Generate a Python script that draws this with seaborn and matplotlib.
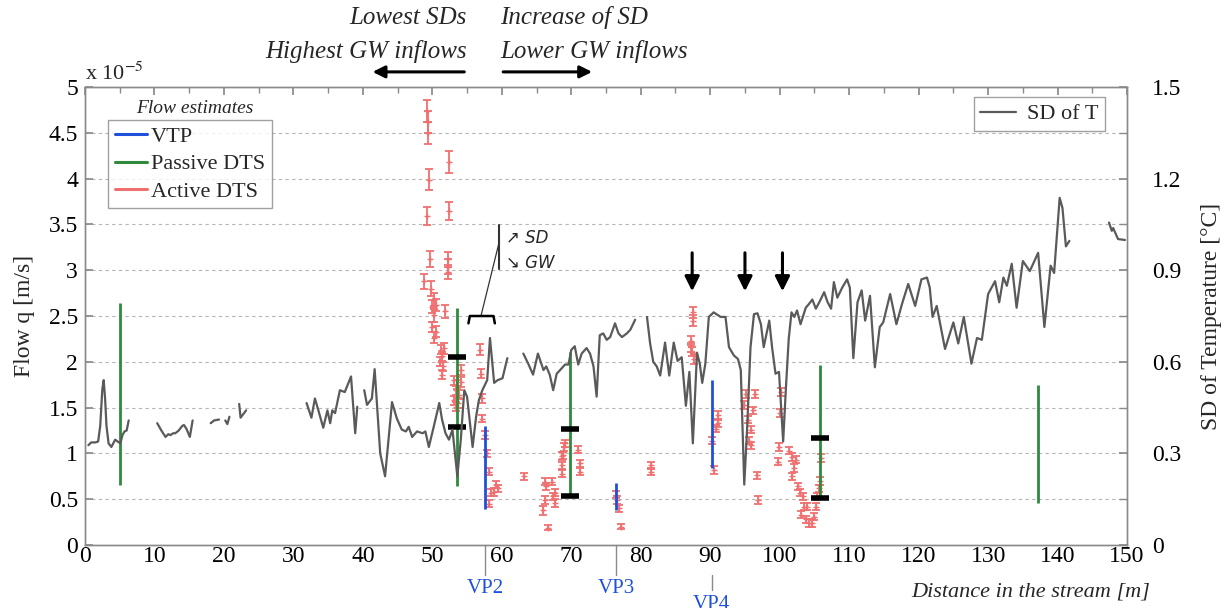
import numpy as np
import pandas as pd
import matplotlib
matplotlib.use("Agg")
import matplotlib.pyplot as plt
import matplotlib.transforms as mtransforms
from matplotlib.lines import Line2D
import seaborn as sns

# ---------------- data ----------------
# SD of temperature (deg C), separate measured stretches (gaps between them)
sd_seg_x = [
    [0.5, 0.9, 1.5, 1.9, 2.2, 2.5, 2.7, 2.9, 3.1, 3.4, 3.8, 4.35, 4.7, 5.1, 5.4, 5.7, 6.0, 6.3],
    [10.4, 11.0, 11.6, 12.0, 12.3, 12.7, 13.0, 13.5, 14.0, 14.25, 14.6, 15.1, 15.5],
    [18.1, 18.6, 19.3],
    [20.2, 20.5, 20.8],
    [22.2, 22.4, 22.8, 23.2],
    [31.9, 32.6, 33.1, 33.6, 34.3, 34.9, 35.3, 35.6, 36.0, 36.7, 37.4, 38.3, 38.9, 39.2],
    [40.2, 40.6, 41.3, 41.7, 42.5, 43.2, 44.2, 44.9, 45.6, 46.2, 46.6, 47.1, 47.8, 48.6, 49.0,
     49.5, 50.2, 51.0, 51.4, 51.9, 52.4, 52.9, 53.6, 54.1, 54.6, 55.0, 55.8, 56.3, 56.7, 57.2,
     57.9, 58.3, 58.9, 59.4, 60.1, 60.8],
    [63.1, 63.8, 64.5, 65.2, 66.0, 66.4, 66.9, 67.4, 67.9, 68.4, 69.1, 69.6, 70.0, 70.5, 71.0,
     71.5, 72.2, 72.7, 73.2, 73.65, 74.1, 74.6, 75.1, 75.6, 76.3, 76.8, 77.3, 78.0, 78.5, 79.2],
    [80.9, 81.35, 81.8, 82.3, 82.8, 83.5, 84.1, 84.75, 85.3, 85.9, 86.5, 87.0, 87.5, 88.1, 88.5,
     88.85, 89.3, 89.8, 90.5, 91.5, 92.2, 92.7, 93.4, 94.0, 94.4, 94.9, 95.3, 95.8, 96.3, 96.8,
     97.3, 97.7, 98.5, 98.9, 99.4, 99.9, 100.5, 100.9, 101.3, 101.7, 102.1, 102.5, 103.0, 103.75,
     104.2, 104.7, 105.2, 105.7, 106.4, 106.9, 107.4, 107.8, 108.3, 109.0, 109.7, 110.1, 110.6,
     111.2, 111.8, 112.3, 113.0, 113.7, 114.4, 114.9, 115.9, 116.8, 117.6, 118.5, 119.5, 120.4,
     121.2, 121.6, 122.0, 122.6, 123.8, 125.0, 125.7, 126.5, 127.6, 128.4, 129.1, 130.0, 131.0,
     131.6, 132.2, 132.7, 133.4, 134.1, 135.0, 136.0, 137.2, 138.1, 139.0, 139.5, 140.3, 140.7,
     141.2, 141.7],
    [147.4, 147.8, 148.0, 148.7, 149.7],
]
sd_seg_val = [
    [0.327, 0.336, 0.336, 0.339, 0.39, 0.51, 0.54, 0.48, 0.39, 0.333, 0.321, 0.345, 0.339, 0.333,
     0.36, 0.372, 0.375, 0.408],
    [0.399, 0.375, 0.354, 0.363, 0.36, 0.366, 0.366, 0.375, 0.39, 0.393, 0.381, 0.354, 0.408],
    [0.399, 0.408, 0.411],
    [0.408, 0.396, 0.42],
    [0.462, 0.417, 0.429, 0.441],
    [0.465, 0.417, 0.48, 0.441, 0.384, 0.441, 0.399, 0.441, 0.432, 0.507, 0.501, 0.552, 0.366, 0.453],
    [0.507, 0.459, 0.48, 0.576, 0.30, 0.225, 0.468, 0.414, 0.378, 0.372, 0.387, 0.354, 0.372, 0.366,
     0.372, 0.321, 0.387, 0.465, 0.411, 0.366, 0.345, 0.378, 0.225, 0.345, 0.507, 0.486, 0.321, 0.42,
     0.474, 0.507, 0.54, 0.678, 0.531, 0.54, 0.546, 0.612],
    [0.627, 0.594, 0.558, 0.627, 0.573, 0.585, 0.558, 0.507, 0.561, 0.573, 0.591, 0.591, 0.639, 0.651,
     0.591, 0.627, 0.645, 0.627, 0.585, 0.486, 0.687, 0.693, 0.672, 0.681, 0.726, 0.693, 0.681, 0.693,
     0.705, 0.738],
    [0.747, 0.660, 0.600, 0.585, 0.555, 0.663, 0.555, 0.663, 0.603, 0.615, 0.456, 0.567, 0.333, 0.630,
     0.594, 0.531, 0.594, 0.747, 0.762, 0.747, 0.747, 0.648, 0.621, 0.609, 0.573, 0.198, 0.375, 0.648,
     0.756, 0.759, 0.723, 0.648, 0.735, 0.648, 0.561, 0.567, 0.339, 0.516, 0.675, 0.762, 0.747, 0.768,
     0.723, 0.777, 0.789, 0.804, 0.774, 0.795, 0.828, 0.795, 0.774, 0.861, 0.810, 0.843, 0.870, 0.843,
     0.612, 0.795, 0.834, 0.735, 0.816, 0.582, 0.714, 0.729, 0.822, 0.723, 0.789, 0.855, 0.783, 0.870,
     0.876, 0.843, 0.747, 0.783, 0.642, 0.729, 0.660, 0.747, 0.594, 0.678, 0.672, 0.822, 0.864, 0.795,
     0.876, 0.849, 0.921, 0.777, 0.930, 0.897, 0.957, 0.714, 0.915, 0.891, 1.137, 1.104, 0.978, 0.996],
    [1.056, 1.029, 1.038, 1.002, 0.999],
]

# Active DTS flow estimates (x 1e-5 m/s) with error half-widths
dts_x = [49.3, 49.4, 49.4, 52.4, 49.5, 49.2, 52.4, 49.7, 52.2, 52.3, 52.2, 48.8, 49.8, 50.2, 50.5,
         51.8, 50.0, 50.2, 50.0, 50.5, 50.2, 51.7, 51.2, 51.4, 51.1, 51.5, 51.4, 54.1, 53.1, 53.6,
         54.1, 53.4, 53.8, 53.1, 53.75, 53.4, 56.8, 57.0, 57.1, 57.2, 57.6, 57.8, 58.1, 59.1, 59.4,
         58.9, 58.4, 58.2, 63.2, 66.2, 67.2, 66.4, 67.6, 67.4, 66.2, 67.6, 65.95, 66.7, 68.6, 68.7,
         68.6, 68.8, 69.05, 69.0, 70.9, 71.2, 71.2, 76.4, 76.6, 76.9, 77.1, 81.5, 81.5,
         87.5, 87.5, 87.3, 87.2, 87.4, 87.6, 91.1, 91.1, 90.9, 90.3, 90.5, 95.1, 96.5, 94.9, 96.2,
         95.4, 95.9, 95.6, 95.8, 96.8, 96.9, 100.2, 100.1, 99.9, 99.7, 101.3, 101.8, 102.3, 102.0,
         101.8, 102.6, 102.9, 103.3, 103.5, 104.0, 103.1, 103.75, 104.2, 104.7, 104.95, 105.2,
         105.4, 105.7, 105.8, 105.9]
dts_q = [4.74, 4.62, 4.50, 4.18, 3.99, 3.59, 3.65, 3.12, 3.12, 3.04, 2.98, 2.88, 2.80, 2.68, 2.62,
         2.55, 2.60, 2.51, 2.38, 2.33, 2.26, 2.15, 2.13, 2.06, 2.00, 1.95, 1.86, 1.91, 1.80, 1.75,
         1.78, 1.69, 1.64, 1.58, 1.55, 1.51, 2.13, 1.87, 1.60, 1.38, 1.20, 1.00, 0.80, 0.66, 0.62,
         0.58, 0.57, 0.45, 0.75, 0.69, 0.69, 0.64, 0.57, 0.53, 0.49, 0.46, 0.38, 0.19, 0.78, 0.87,
         0.97, 0.98, 1.11, 1.07, 1.04, 0.89, 0.80, 0.55, 0.49, 0.40, 0.20, 0.87, 0.80,
         2.54, 2.45, 2.23, 2.16, 2.11, 2.03, 1.42, 1.33, 1.27, 1.14, 0.82, 1.65, 1.65, 1.53, 1.47,
         1.37, 1.26, 1.14, 1.09, 0.76, 0.49, 1.67, 1.44, 1.07, 0.91, 1.03, 0.96, 0.93, 0.84,
         0.75, 0.64, 0.57, 0.53, 0.42, 0.42, 0.33, 0.28, 0.24, 0.24, 0.31, 0.42,
         0.53, 0.62, 0.70, 0.95]
dts_err = [0.12, 0.12, 0.12, 0.12, 0.11, 0.10, 0.10, 0.09, 0.08, 0.08, 0.08, 0.08, 0.08, 0.07, 0.07,
           0.07, 0.07, 0.07, 0.06, 0.06, 0.06, 0.06, 0.05, 0.05, 0.05, 0.05, 0.05, 0.05, 0.05, 0.05,
           0.05, 0.05, 0.05, 0.05, 0.05, 0.05, 0.06, 0.05, 0.05, 0.04, 0.04, 0.04, 0.04, 0.04, 0.04,
           0.04, 0.04, 0.04, 0.04, 0.04, 0.04, 0.04, 0.04, 0.04, 0.04, 0.04, 0.05, 0.03, 0.04, 0.04,
           0.04, 0.04, 0.04, 0.04, 0.04, 0.04, 0.04, 0.04, 0.04, 0.04, 0.03, 0.04, 0.04,
           0.06, 0.06, 0.05, 0.05, 0.05, 0.05, 0.04, 0.04, 0.04, 0.04, 0.04, 0.04, 0.04, 0.04, 0.04,
           0.04, 0.04, 0.04, 0.04, 0.04, 0.04, 0.04, 0.04, 0.04, 0.04, 0.04, 0.04, 0.04, 0.04,
           0.04, 0.04, 0.04, 0.04, 0.04, 0.04, 0.04, 0.04, 0.04, 0.04, 0.04, 0.04,
           0.04, 0.04, 0.04, 0.04]

# Passive DTS ranges (x 1e-5 m/s) and their two marked estimates
pdts_x = [5.1, 53.5, 69.8, 105.8, 137.2]
pdts_low = [0.65, 0.64, 0.53, 0.51, 0.46]
pdts_high = [2.64, 2.59, 2.11, 1.97, 1.75]
pdts_mark_x = [53.5, 53.5, 69.8, 69.8, 105.8, 105.8]
pdts_mark_q = [2.05, 1.29, 1.27, 0.54, 1.17, 0.51]

# VTP ranges (x 1e-5 m/s)
vtp_x = [57.6, 76.5, 90.2]
vtp_low = [0.39, 0.38, 0.84]
vtp_high = [1.30, 0.68, 1.80]
vp_names = ["VP2", "VP3", "VP4"]

arrow_x = [87.4, 95.0, 100.4]

# ---------------- style ----------------
sns.set_theme(style="white")
plt.rcParams["font.family"] = ["Liberation Serif", "DejaVu Serif"]
plt.rcParams["mathtext.fontset"] = "stix"

GRAY = "#5a5a5a"
RED = "#f07070"
BLUE = "#1f50dc"
GREEN = "#2f8a3c"
SPINE = "#8a8a8a"

fig = plt.figure(figsize=(12.24, 6.08), dpi=100)
ax = fig.add_axes([0.0694, 0.1036, 0.8514, 0.7533])
ax2 = ax.twinx()

ax.set_xlim(0, 150)
ax.set_ylim(0, 5)
ax2.set_ylim(0, 1.5)

# grid
for gy in np.arange(0.5, 5.0, 0.5):
    ax.axhline(gy, color="#b5b5b5", lw=0.8, ls=(0, (3, 3)), zorder=0)

# SD line (right axis)
rows = []
for i, (xs, vs) in enumerate(zip(sd_seg_x, sd_seg_val)):
    for xv, sv in zip(xs, vs):
        rows.append({"x": xv, "sd": sv, "seg": i})
sd_df = pd.DataFrame(rows)
sns.lineplot(data=sd_df, x="x", y="sd", units="seg", estimator=None, sort=False,
             color=GRAY, lw=1.6, ax=ax2, legend=False)

# Active DTS
ax.errorbar(dts_x, dts_q, yerr=dts_err, fmt="none", ecolor=RED, elinewidth=1.3,
            capsize=3.2, capthick=1.3, zorder=3)
dts_df = pd.DataFrame({"x": dts_x, "q": dts_q})
sns.scatterplot(data=dts_df, x="x", y="q", marker="+", s=18, color=RED, linewidth=1.0,
                ax=ax, zorder=3, legend=False)

# Passive DTS
ax.vlines(pdts_x, pdts_low, pdts_high, color=GREEN, lw=2.0, zorder=4)
for mx, mq in zip(pdts_mark_x, pdts_mark_q):
    ax.hlines(mq, mx - 1.3, mx + 1.3, color="black", lw=4, zorder=5)

# VTP
ax.vlines(vtp_x, vtp_low, vtp_high, color=BLUE, lw=2.0, zorder=4)

# down arrows
for axx in arrow_x:
    ax.annotate("", xy=(axx, 2.74), xytext=(axx, 3.22),
                arrowprops=dict(arrowstyle="-|>", lw=2.2, color="black", mutation_scale=22))

# SD / GW annotation
ax.plot([59.6, 59.6], [3.01, 3.49], color="#333333", lw=1.5)
ax.plot([57.0, 59.6], [2.50, 3.30], color="#333333", lw=0.9)
ax.plot([55.2, 55.4, 58.8, 59.0], [2.42, 2.50, 2.50, 2.42], color="black", lw=1.8)
ax.text(60.6, 3.35, "\u2197 SD", fontsize=12, style="italic", family=["DejaVu Sans"],
        va="center", ha="left")
ax.text(60.6, 3.08, "\u2198 GW", fontsize=12, style="italic", family=["DejaVu Sans"],
        va="center", ha="left")

# axes styling
ax.set_xticks(np.arange(0, 151, 10))
ax.set_xticks(np.arange(0, 151, 5), minor=True)
ax.set_yticks(np.arange(0, 5.01, 0.5))
ax.set_yticklabels(["0", "0.5", "1", "1.5", "2", "2.5", "3", "3.5", "4", "4.5", "5"])
ax2.set_yticks(np.arange(0, 1.51, 0.3))
ax2.set_yticklabels(["0", "0.3", "0.6", "0.9", "1.2", "1.5"])
ax2.set_yticks(np.arange(0, 1.51, 0.15), minor=True)
ax.tick_params(axis="both", which="both", direction="in", colors=SPINE, labelcolor="black",
               labelsize=17, top=True, length=6)
ax.tick_params(axis="x", which="minor", length=4)
ax.tick_params(axis="x", pad=1)
ax.tick_params(axis="y", pad=5)
ax2.tick_params(axis="y", which="both", direction="in", colors=SPINE, labelcolor="black",
                labelsize=17, length=6, pad=18)
for a in (ax, ax2):
    for s in a.spines.values():
        s.set_color(SPINE)
        s.set_linewidth(1.0)
ax.set_xlabel("")
ax2.set_xlabel("")
ax.set_ylabel("Flow q [m/s]", fontsize=17, labelpad=10)
ax2.set_ylabel("SD of Temperature [\u00b0C]", fontsize=17, labelpad=14)

ax.text(0.0, 1.005, "x 10$^{-5}$", transform=ax.transAxes, fontsize=16, ha="left", va="bottom")

# legends
flow_handles = [Line2D([0], [0], color=BLUE, lw=2.2),
                Line2D([0], [0], color=GREEN, lw=2.2),
                Line2D([0], [0], color=RED, lw=2.2)]
leg1 = ax.legend(flow_handles, ["VTP", "Passive DTS", "Active DTS"], loc="upper left",
                 bbox_to_anchor=(0.022, 0.928), frameon=True, fancybox=False, fontsize=16,
                 handlelength=1.45, handletextpad=0.2, borderpad=0.3, labelspacing=0.3,
                 borderaxespad=0)
leg1.get_frame().set_edgecolor(SPINE)
leg1.get_frame().set_linewidth(1.0)
ax.text(0.105, 0.953, "Flow estimates", transform=ax.transAxes, fontsize=14,
        style="italic", ha="center", va="center")

leg2 = ax2.legend([Line2D([0], [0], color=GRAY, lw=1.6)], ["SD of T"], loc="upper right",
                  bbox_to_anchor=(0.979, 0.978), frameon=True, fancybox=False, fontsize=16,
                  handlelength=1.6, handletextpad=0.5, borderpad=0.3, borderaxespad=0)
leg2.get_frame().set_edgecolor(SPINE)
leg2.get_frame().set_linewidth(1.0)

# top annotations
tb = mtransforms.blended_transform_factory(ax.transData, ax.transAxes)
ax.text(55.0, 1.151, "Lowest SDs", transform=tb, fontsize=18, style="italic", ha="right", va="center")
ax.text(55.0, 1.078, "Highest GW inflows", transform=tb, fontsize=18, style="italic", ha="right", va="center")
ax.text(59.8, 1.151, "Increase of SD", transform=tb, fontsize=18, style="italic", ha="left", va="center")
ax.text(59.8, 1.078, "Lower GW inflows", transform=tb, fontsize=18, style="italic", ha="left", va="center")
ax.annotate("", xy=(41.0, 1.033), xytext=(55.0, 1.033), xycoords=tb, textcoords=tb,
            arrowprops=dict(arrowstyle="-|>", lw=2.2, color="black", mutation_scale=18),
            annotation_clip=False)
ax.annotate("", xy=(73.4, 1.033), xytext=(59.8, 1.033), xycoords=tb, textcoords=tb,
            arrowprops=dict(arrowstyle="-|>", lw=2.2, color="black", mutation_scale=18),
            annotation_clip=False)

# VP markers below the axis
for name, vx in zip(vp_names, vtp_x):
    if name == "VP4":
        ax.plot([vx, vx], [-0.066, -0.098], transform=tb, color=SPINE, lw=1.0, clip_on=False)
        ax.text(vx, -0.13, name, transform=tb, fontsize=15, color=BLUE, ha="center", va="center")
    else:
        ax.plot([vx, vx], [0, -0.066], transform=tb, color=SPINE, lw=1.0, clip_on=False)
        ax.text(vx, -0.094, name, transform=tb, fontsize=15, color=BLUE, ha="center", va="center")

ax.text(1.022, -0.103, "Distance in the stream [m]", transform=ax.transAxes, fontsize=16,
        style="italic", ha="right", va="center")

fig.savefig("out.png", dpi=100)
